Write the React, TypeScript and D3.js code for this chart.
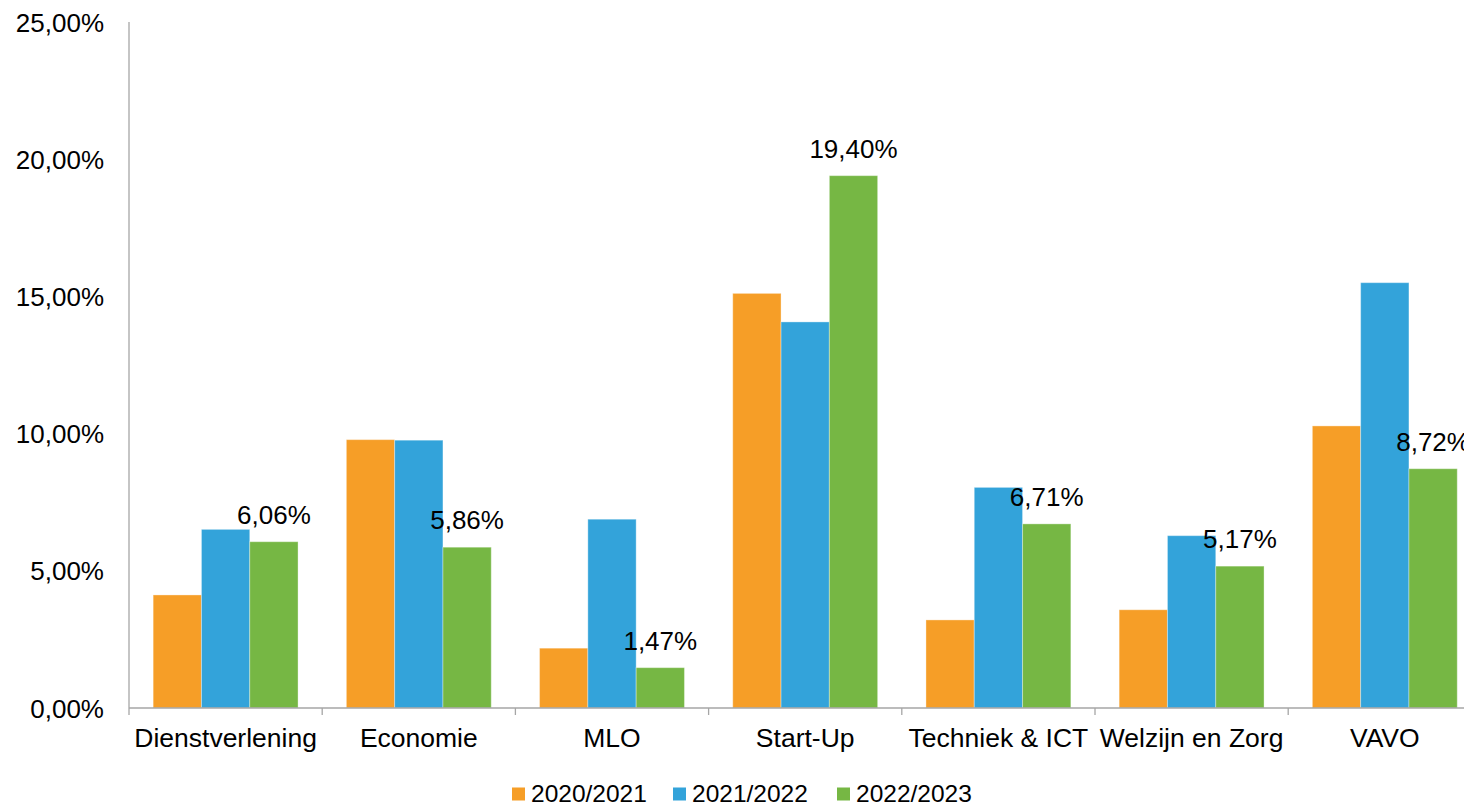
import React from "react";
import * as d3 from "d3";

const categories = ["Dienstverlening", "Economie", "MLO", "Start-Up", "Techniek & ICT", "Welzijn en Zorg", "VAVO"];
const seriesNames = ["2020/2021", "2021/2022", "2022/2023"];
const values2020 = [4.12, 9.78, 2.18, 15.11, 3.21, 3.58, 10.28];
const values2021 = [6.51, 9.76, 6.88, 14.07, 8.04, 6.28, 15.5];
const values2022 = [6.06, 5.86, 1.47, 19.4, 6.71, 5.17, 8.72];
const yTicks = [0, 5, 10, 15, 20, 25];
const colors = ["#F69E27", "#33A3DA", "#76B744"];

const W = 1464;
const H = 805;
const FONT = "'Liberation Sans', Arial, sans-serif";

const fmt = (v: number) => v.toFixed(2).replace(".", ",") + "%";

export default function App() {
  const seriesValues = [values2020, values2021, values2022];
  const bandW = 193.2;
  const x0 = d3.scaleBand<string>().domain(categories).range([129, 129 + bandW * categories.length]).padding(0);
  const x1 = d3.scaleBand<string>().domain(seriesNames).range([0, x0.bandwidth()]).paddingOuter(0.5).paddingInner(0);
  const y = d3.scaleLinear().domain([0, 25]).range([708, 22]);
  const axisColor = "#A6A6A6";
  const legendX = [512, 673, 837];

  return (
    <svg width={W} height={H} style={{ position: "absolute", left: 0, top: 0, background: "#fff" }} fontFamily={FONT}>
      {categories.map((c, ci) => (
        <g key={c}>
          {seriesNames.map((s, si) => {
            const v = seriesValues[si][ci];
            const bx = (x0(c) as number) + (x1(s) as number);
            return (
              <rect
                key={s}
                x={bx}
                y={y(v)}
                width={x1.bandwidth()}
                height={y(0) - y(v)}
                fill={colors[si]}
                stroke="rgba(255,255,255,0.35)"
                strokeWidth={1}
              />
            );
          })}
        </g>
      ))}
      <line x1={129} x2={129} y1={y(25)} y2={y(0)} stroke={axisColor} strokeWidth={1.3} />
      {yTicks.map((t) => (
        <text key={t} x={104} y={y(t) + 9.5} textAnchor="end" fontSize={26} fill="#000">
          {fmt(t)}
        </text>
      ))}
      <line x1={129} x2={W} y1={y(0)} y2={y(0)} stroke={axisColor} strokeWidth={1.3} />
      {categories.map((c) => (
        <line key={"t" + c} x1={x0(c) as number} x2={x0(c) as number} y1={y(0)} y2={y(0) + 7} stroke={axisColor} strokeWidth={1.3} />
      ))}
      {categories.map((c) => (
        <text key={"l" + c} x={(x0(c) as number) + x0.bandwidth() / 2} y={747} textAnchor="middle" fontSize={26.5} fill="#000">
          {c}
        </text>
      ))}
      {categories.map((c, ci) => {
        const v = values2022[ci];
        const cx = (x0(c) as number) + (x1(seriesNames[2]) as number) + x1.bandwidth() / 2;
        return (
          <text key={"d" + c} x={cx} y={y(v) - 18} textAnchor="middle" fontSize={26} fill="#000">
            {fmt(v)}
          </text>
        );
      })}
      {seriesNames.map((s, si) => (
        <g key={"lg" + s}>
          <rect x={legendX[si]} y={787.5} width={13} height={13} fill={colors[si]} />
          <text x={legendX[si] + 19} y={801.5} fontSize={24.5} fill="#000">
            {s}
          </text>
        </g>
      ))}
    </svg>
  );
}
